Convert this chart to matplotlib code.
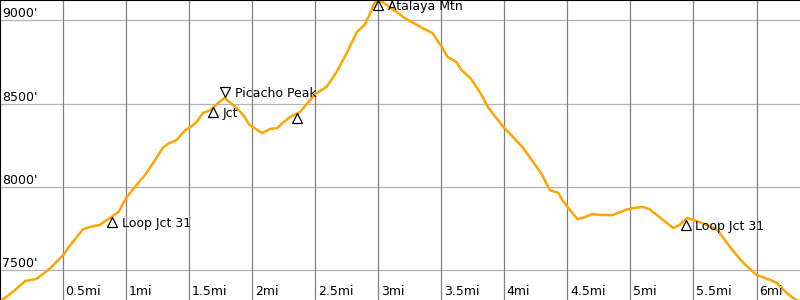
import matplotlib
matplotlib.use('Agg')
import matplotlib.pyplot as plt
from matplotlib import rcParams

rcParams['font.family'] = 'DejaVu Sans'
rcParams['font.size'] = 9

### profile: distance in miles, elevation in feet ###
dist = [0.00, 0.04, 0.12, 0.20, 0.29, 0.40, 0.50, 0.57, 0.66, 0.71, 0.79, 0.87, 0.94,
        1.00, 1.07, 1.15, 1.23, 1.29, 1.33, 1.40, 1.47, 1.51, 1.56, 1.61, 1.67, 1.73,
        1.78, 1.85, 1.93, 1.98, 2.08, 2.14, 2.20, 2.24, 2.30, 2.38, 2.44, 2.50, 2.59,
        2.67, 2.75, 2.83, 2.89, 2.93, 2.97, 3.01, 3.09, 3.21, 3.28, 3.35, 3.43, 3.51,
        3.55, 3.62, 3.66, 3.73, 3.81, 3.87, 3.93, 4.00, 4.07, 4.15, 4.23, 4.30, 4.36,
        4.43, 4.46, 4.52, 4.58, 4.62, 4.70, 4.76, 4.86, 4.96, 5.02, 5.10, 5.15, 5.23,
        5.34, 5.39, 5.45, 5.50, 5.61, 5.69, 5.79, 5.89, 6.00, 6.11, 6.16, 6.24, 6.29,
        6.35]
elev = [7320, 7335, 7383, 7437, 7449, 7514, 7592, 7664, 7748, 7760, 7772, 7814, 7850,
        7934, 8000, 8072, 8161, 8233, 8257, 8281, 8341, 8359, 8389, 8443, 8461, 8503,
        8533, 8491, 8431, 8371, 8323, 8347, 8353, 8383, 8419, 8449, 8503, 8557, 8599,
        8689, 8802, 8928, 8970, 9030, 9102, 9120, 9078, 9012, 8982, 8952, 8922, 8832,
        8778, 8748, 8700, 8653, 8563, 8479, 8419, 8353, 8299, 8233, 8149, 8072, 7982,
        7964, 7922, 7862, 7808, 7814, 7838, 7832, 7832, 7862, 7874, 7880, 7868, 7820,
        7754, 7772, 7814, 7802, 7772, 7742, 7640, 7550, 7473, 7443, 7425, 7365, 7335,
        7310]

### waypoints ###
wp_names = ['Loop Jct 31', 'Jct', 'Picacho Peak', '', 'Atalaya Mtn', 'Loop Jct 31']
wp_mi = [0.892, 1.692, 1.785, 2.358, 3.0, 5.438]
wp_ft = [7790, 8449, 8569, 8413, 9090, 7772]
wp_marker = ['^', '^', 'v', '^', '^', '^']

y_ticks = [7500, 8000, 8500, 9000]
x_ticks = [0.5, 1, 1.5, 2, 2.5, 3, 3.5, 4, 4.5, 5, 5.5, 6]
x_labels = ['0.5mi', '1mi', '1.5mi', '2mi', '2.5mi', '3mi', '3.5mi', '4mi',
            '4.5mi', '5mi', '5.5mi', '6mi']

fig = plt.figure(figsize=(8, 3), dpi=100)
ax = fig.add_axes([0, 0, 1, 1])
ax.set_xlim(0, 6.345)
ax.set_ylim(7323, 9120)

for y in y_ticks:
    ax.axhline(y, color='#b4b4b4', lw=0.9, zorder=1)
    ax.text(0.003, y, str(y) + "'", transform=ax.get_yaxis_transform(),
            ha='left', va='bottom', color='black', zorder=4)
for x, lab in zip(x_ticks, x_labels):
    ax.axvline(x, color='#808080', lw=0.9, zorder=1)
    ax.annotate(lab, (x, 0), xycoords=ax.get_xaxis_transform(),
                xytext=(2.5, 5), textcoords='offset pixels',
                ha='left', va='baseline', zorder=4)

ax.plot(dist, elev, color='#ffa500', lw=1.8, zorder=2)

for name, m, f, mk in zip(wp_names, wp_mi, wp_ft, wp_marker):
    ax.plot(m, f, marker=mk, ms=7.6, mfc='none', mec='black', mew=0.9,
            zorder=5, clip_on=False)
    if name:
        ax.annotate(name, (m, f), xytext=(9.5, 0), textcoords='offset pixels',
                    ha='left', va='center_baseline', zorder=5)

ax.set_xticks([])
ax.set_yticks([])
for s in ['right', 'bottom']:
    ax.spines[s].set_visible(False)
for s in ['top', 'left']:
    ax.spines[s].set_color('black')
    ax.spines[s].set_linewidth(1.5)

plt.savefig('out.png', dpi=100)
